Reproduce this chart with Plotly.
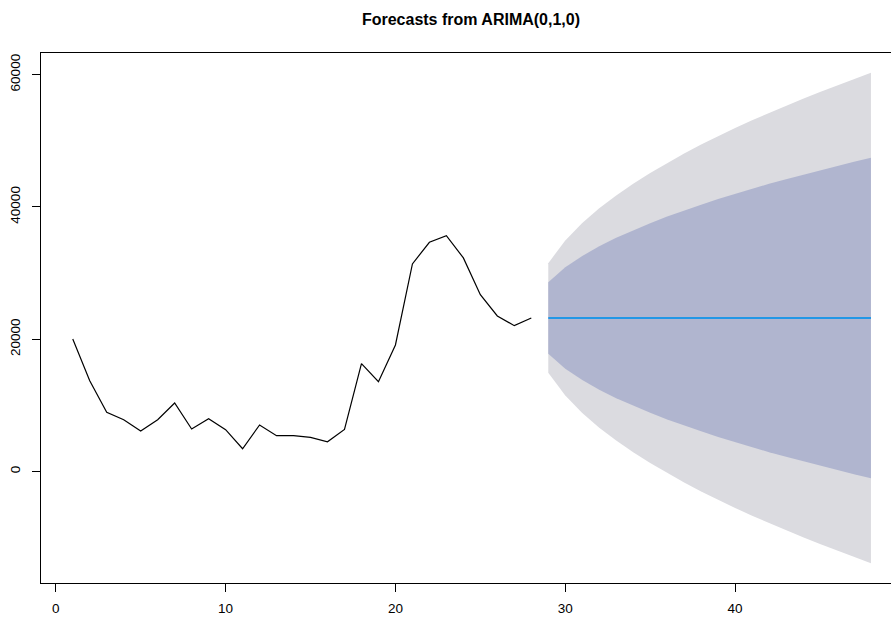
import plotly.graph_objects as go

# Observed series (periods 1..28)
periods = list(range(1, 29))
observed = [20030, 13720, 8930, 7820, 6110, 7820, 10350, 6410, 7970, 6310,
            3430, 7020, 5400, 5400, 5140, 4490, 6350, 16290, 13570, 19120,
            31380, 34650, 35660, 32290, 26730, 23510, 22040, 23200]

# Forecast horizon (periods 29..48): point forecast and prediction intervals
fc_periods = list(range(29, 49))
fc_mean = [23200] * 20
lo80 = [17779, 15533, 13810, 12358, 11078, 9921, 8857, 7867, 6937, 6057,
        5220, 4421, 3654, 2916, 2204, 1516, 849, 201, -430, -1043]
hi80 = [28621, 30867, 32590, 34042, 35322, 36479, 37543, 38533, 39463, 40343,
        41180, 41979, 42746, 43484, 44196, 44884, 45551, 46199, 46830, 47443]
lo95 = [14909, 11475, 8839, 6618, 4661, 2891, 1264, -250, -1673, -3019,
        -4298, -5521, -6694, -7822, -8911, -9964, -10985, -11975, -12940, -13878]
hi95 = [31491, 34925, 37561, 39782, 41739, 43509, 45136, 46650, 48073, 49419,
        50698, 51921, 53094, 54222, 55311, 56364, 57385, 58375, 59340, 60278]

x_ticks = [0, 10, 20, 30, 40]
y_ticks = [0, 20000, 40000, 60000]
title_text = "Forecasts from ARIMA(0,1,0)"

FONT = "Liberation Sans, Arial, Helvetica, sans-serif"

fig = go.Figure()

# 95% interval band
fig.add_trace(go.Scatter(x=fc_periods, y=lo95, mode="lines",
                         line=dict(width=0), showlegend=False, hoverinfo="skip"))
fig.add_trace(go.Scatter(x=fc_periods, y=hi95, mode="lines", fill="tonexty",
                         fillcolor="#DBDBE0", line=dict(width=0),
                         showlegend=False, hoverinfo="skip"))
# 80% interval band
fig.add_trace(go.Scatter(x=fc_periods, y=lo80, mode="lines",
                         line=dict(width=0), showlegend=False, hoverinfo="skip"))
fig.add_trace(go.Scatter(x=fc_periods, y=hi80, mode="lines", fill="tonexty",
                         fillcolor="#B0B5CF", line=dict(width=0),
                         showlegend=False, hoverinfo="skip"))
# Point forecast
fig.add_trace(go.Scatter(x=fc_periods, y=fc_mean, mode="lines",
                         line=dict(color="#2297E6", width=2), showlegend=False))
# Observed series
fig.add_trace(go.Scatter(x=periods, y=observed, mode="lines",
                         line=dict(color="black", width=1.2), showlegend=False))

fig.update_layout(
    width=891, height=617,
    margin=dict(l=41, r=0, t=53, b=34),
    paper_bgcolor="white", plot_bgcolor="white",
    font=dict(family=FONT, size=13.5, color="black"),
    title=dict(text="<b>" + title_text + "</b>", font=dict(size=16, family=FONT),
               x=0.5286, xref="container", xanchor="center",
               y=1 - 19.5 / 617, yref="container", yanchor="middle"),
    showlegend=False,
)

fig.update_xaxes(range=[-0.87, 49.18], tickvals=x_ticks, ticktext=[str(v) for v in x_ticks],
                 showgrid=False, zeroline=False, automargin=False,
                 showline=True, linecolor="black", linewidth=1, mirror=True,
                 ticks="outside", ticklen=8, tickcolor="black", tickwidth=1,
                 ticklabelstandoff=5)
fig.update_yaxes(range=[-16870, 63270], tickvals=y_ticks, ticktext=[str(v) for v in y_ticks],
                 showgrid=False, zeroline=False, automargin=False,
                 showline=True, linecolor="black", linewidth=1,
                 ticks="outside", ticklen=8, tickcolor="black", tickwidth=1,
                 tickangle=-90, ticklabelstandoff=7)

fig.write_html("out.html")
